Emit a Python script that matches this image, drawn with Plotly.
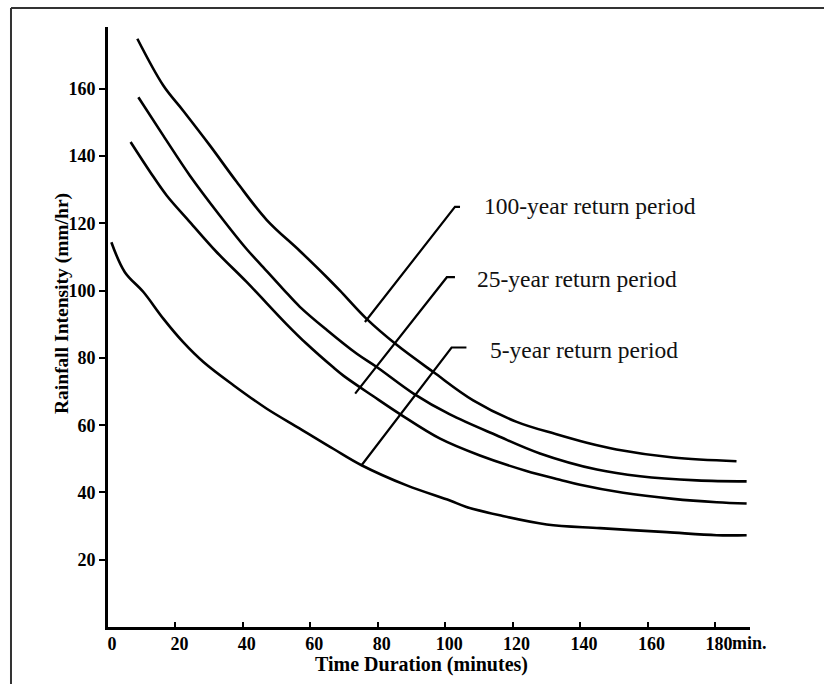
import plotly.graph_objects as go

# ---- data ----
t_100 = [8.7, 16.4, 22.3, 30.2, 38.2, 47.1, 56.9, 64.9, 68.8, 76.7, 85.6, 96.5, 108.3, 121.2, 133.0, 142.0, 150.8, 167.6, 186.4]
v_100 = [174.9, 161.0, 153.5, 143.2, 132.3, 121.0, 111.8, 104.0, 100.0, 91.6, 83.9, 75.8, 67.4, 61.0, 57.3, 54.8, 52.8, 50.4, 49.3]

t_mid = [9.0, 16.4, 24.3, 33.2, 41.1, 45.1, 52.0, 56.9, 64.9, 73.7, 79.7, 90.6, 101.4, 115.2, 128.1, 145.0, 157.8, 174.6, 189.4]
v_mid = [157.5, 146.1, 134.2, 122.3, 112.4, 108.0, 100.4, 95.2, 88.3, 81.3, 77.3, 69.4, 63.2, 57.0, 51.6, 46.8, 44.8, 43.6, 43.3]

t_25 = [6.7, 12.5, 17.4, 24.3, 32.2, 41.1, 53.0, 58.9, 66.8, 70.0, 78.7, 86.6, 98.5, 110.3, 124.1, 134.0, 140.0, 152.8, 167.6, 180.5, 189.4]
v_25 = [144.2, 135.3, 128.3, 120.4, 111.5, 102.6, 90.0, 84.2, 77.2, 74.6, 68.6, 63.3, 56.0, 51.0, 46.4, 43.8, 42.3, 39.9, 38.1, 37.1, 36.7]

t_5 = [1.0, 5.0, 10.5, 16.4, 22.3, 28.3, 37.2, 47.1, 56.9, 66.8, 75.2, 88.6, 101.4, 106.3, 116.2, 130.1, 145.9, 165.7, 180.5, 189.4]
v_5 = [114.4, 105.5, 99.6, 91.7, 84.7, 78.8, 71.9, 64.9, 59.0, 53.0, 48.1, 42.1, 37.6, 35.7, 33.2, 30.5, 29.4, 28.2, 27.3, 27.3]

# leader lines (curve point -> elbow -> end of short horizontal)
leader_100_t = [76.2, 102.9, 104.4]
leader_100_v = [90.7, 124.9, 124.9]
leader_25_t = [73.3, 100.5, 102.9]
leader_25_v = [69.4, 104.0, 104.0]
leader_5_t = [75.2, 101.9, 106.3]
leader_5_v = [48.1, 83.1, 83.1]

labels = ["100-year return period", "25-year return period", "5-year return period"]
label_t = [110.9, 108.8, 112.8]
label_v = [125.1, 103.5, 82.3]

x_ticks = [0, 20, 40, 60, 80, 100, 120, 140, 160, 180]
x_ticktext = ["0", "20", "40", "60", "80", "100", "120", "140", "160", "180"]
y_ticks = [20, 40, 60, 80, 100, 120, 140, 160]

fig = go.Figure()
for t, v in [(t_100, v_100), (t_mid, v_mid), (t_25, v_25), (t_5, v_5)]:
    fig.add_trace(go.Scatter(x=t, y=v, mode="lines",
                             line=dict(color="black", width=2.6, shape="spline", smoothing=1.0),
                             showlegend=False, hoverinfo="skip"))
for t, v in [(leader_100_t, leader_100_v), (leader_25_t, leader_25_v), (leader_5_t, leader_5_v)]:
    fig.add_trace(go.Scatter(x=t, y=v, mode="lines", line=dict(color="black", width=2.2),
                             showlegend=False, hoverinfo="skip"))

serif = "Liberation Serif, Times New Roman, serif"
for txt, t, v in zip(labels, label_t, label_v):
    fig.add_annotation(x=t, y=v, xref="x", yref="y", text=txt, showarrow=False,
                       xanchor="left", yanchor="middle",
                       font=dict(family=serif, size=23.5, color="#111"))

# "min." suffix after the 180 tick label
fig.add_annotation(x=180, y=0, xref="x", yref="paper", text="<b>min.</b>", showarrow=False,
                   xanchor="left", yanchor="top", xshift=15, yshift=-4,
                   font=dict(family=serif, size=18, color="black"))

# axis titles
fig.add_annotation(x=0.488, y=-0.063, xref="paper", yref="paper", text="<b>Time Duration (minutes)</b>",
                   showarrow=False, xanchor="center", yanchor="middle",
                   font=dict(family=serif, size=20, color="black"))
fig.add_annotation(x=-0.0717, y=0.54, xref="paper", yref="paper", text="<b>Rainfall Intensity (mm/hr)</b>",
                   showarrow=False, xanchor="center", yanchor="middle", textangle=-90,
                   font=dict(family=serif, size=19.5, color="black"))

# frame (top and left edges only)
fig.add_shape(type="line", xref="paper", yref="paper", x0=-0.1511, x1=1.2, y0=1.0317, y1=1.0317,
              line=dict(color="#333", width=2))
fig.add_shape(type="line", xref="paper", yref="paper", x0=-0.1511, x1=-0.1511, y0=1.0317, y1=-0.2,
              line=dict(color="#333", width=2))

fig.update_layout(
    width=824, height=684,
    margin=dict(l=108, r=74, t=27, b=57),
    paper_bgcolor="white", plot_bgcolor="white",
    showlegend=False,
    xaxis=dict(range=[0, 190.4], tickvals=x_ticks, ticktext=x_ticktext,
               showline=True, linecolor="black", linewidth=3,
               ticks="inside", ticklen=5, tickwidth=2, tickcolor="black",
               showgrid=False, zeroline=False, ticklabelshift=4, ticklabelstandoff=-2,
               tickfont=dict(family=serif, size=18, color="black", weight="bold")),
    yaxis=dict(range=[0, 178.4], tickvals=y_ticks,
               showline=True, linecolor="black", linewidth=3,
               ticks="outside", ticklen=6, tickwidth=2, tickcolor="black",
               showgrid=False, zeroline=False,
               tickfont=dict(family=serif, size=18, color="black", weight="bold")),
)

fig.write_html("out.html", config={"displayModeBar": False},
               post_script="document.body.style.margin='0px';document.body.style.padding='0px';")
